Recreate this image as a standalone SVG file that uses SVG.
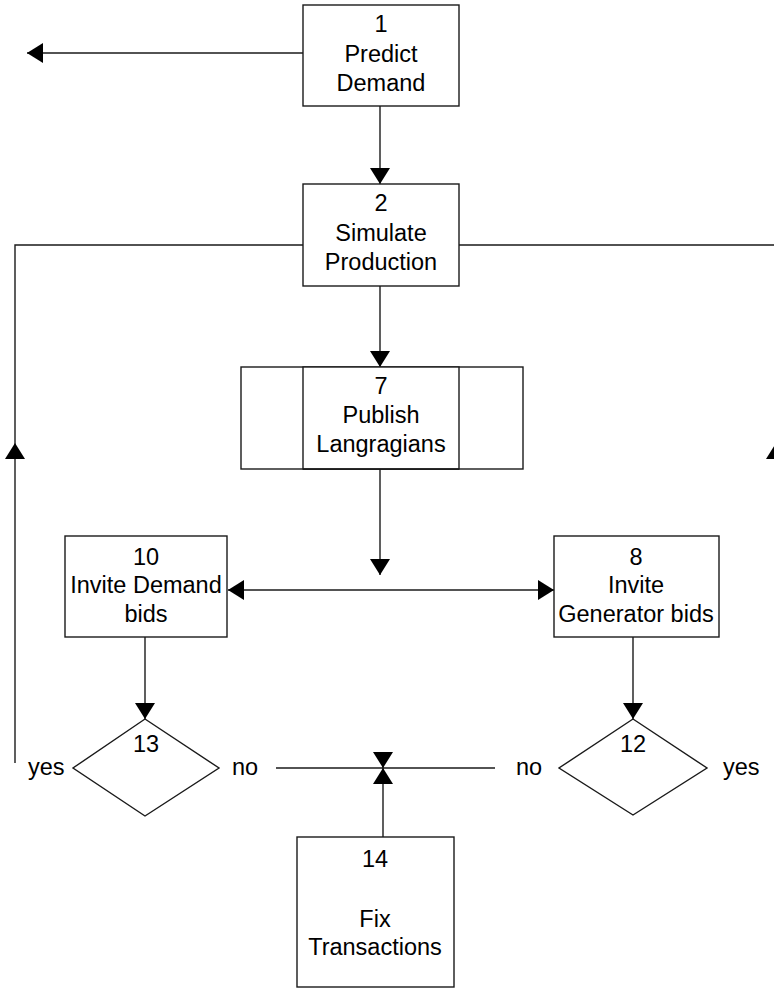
<svg xmlns="http://www.w3.org/2000/svg" width="774" height="988" viewBox="0 0 774 988">
  <style>
    .box { fill: #ffffff; stroke: #1a1a1a; stroke-width: 1.4; }
    .line { fill: none; stroke: #1a1a1a; stroke-width: 1.4; }
    .arrow { marker-end: url(#head); }
    .both { marker-start: url(#head); marker-end: url(#head); }
    text { font-family: "Liberation Sans", Arial, Helvetica, sans-serif; font-size: 23.5px; fill: #000000; }
    .c { text-anchor: middle; }
  </style>
  <defs>
    <marker id="head" markerUnits="userSpaceOnUse" markerWidth="16" markerHeight="20" refX="16" refY="10" orient="auto-start-reverse" viewBox="0 0 16 20">
      <path d="M0,0 L16,10 L0,20 Z" fill="#000000"/>
    </marker>
  </defs>

  <!-- connectors -->
  <g id="connectors">
    <line class="line arrow" x1="303" y1="53" x2="27" y2="53"/>
    <line class="line arrow" x1="380" y1="106" x2="380" y2="184"/>
    <line class="line arrow" x1="380" y1="286" x2="380" y2="367"/>
    <line class="line arrow" x1="380" y1="469" x2="380" y2="575"/>
    <!-- loop back on the left -->
    <line class="line arrow" x1="15" y1="763" x2="15" y2="443"/>
    <polyline class="line" points="15,443 15,245 303,245"/>
    <!-- loop back on the right -->
    <polyline class="line" points="459,245 776,245 776,443"/>
    <line class="line arrow" x1="776" y1="560" x2="776" y2="443"/>
    <!-- fan out to the two bid boxes -->
    <line class="line both" x1="228" y1="590" x2="554" y2="590"/>
    <line class="line arrow" x1="145" y1="637" x2="145" y2="719"/>
    <line class="line arrow" x1="633" y1="637" x2="633" y2="719"/>
    <!-- "no" branches meet -->
    <line class="line" x1="276" y1="768" x2="495" y2="768"/>
    <line class="line arrow" x1="383" y1="752" x2="383" y2="768"/>
    <line class="line arrow" x1="383" y1="837" x2="383" y2="768"/>
  </g>

  <g id="node1">
    <rect class="box" x="303" y="5" width="156" height="101"/>
    <text class="c" x="381" y="32">1</text>
    <text class="c" x="381" y="62">Predict</text>
    <text class="c" x="381" y="91">Demand</text>
  </g>

  <g id="node2">
    <rect class="box" x="303" y="184" width="156" height="102"/>
    <text class="c" x="381" y="211">2</text>
    <text class="c" x="381" y="241">Simulate</text>
    <text class="c" x="381" y="270">Production</text>
  </g>

  <g id="node7">
    <rect class="box" x="241" y="367" width="282" height="102"/>
    <rect class="box" x="303" y="367" width="156" height="102"/>
    <line class="line" x1="303" y1="469" x2="459" y2="469" stroke-width="2.2"/>
    <text class="c" x="381" y="394">7</text>
    <text class="c" x="381" y="423">Publish</text>
    <text class="c" x="381" y="452">Langragians</text>
  </g>

  <g id="node10">
    <rect class="box" x="65" y="536" width="162" height="101"/>
    <text class="c" x="146" y="565">10</text>
    <text class="c" x="146" y="593">Invite Demand</text>
    <text class="c" x="146" y="622">bids</text>
  </g>

  <g id="node8">
    <rect class="box" x="554" y="536" width="165" height="101"/>
    <text class="c" x="636" y="565">8</text>
    <text class="c" x="636" y="593">Invite</text>
    <text class="c" x="636" y="622">Generator bids</text>
  </g>

  <g id="node13">
    <polygon class="box" points="145,719 219,768 145,816 73,768"/>
    <text class="c" x="146" y="752">13</text>
    <text x="28" y="775">yes</text>
    <text x="232" y="775">no</text>
  </g>

  <g id="node12">
    <polygon class="box" points="633,719 707,768 633,815 559,768"/>
    <text class="c" x="633" y="752">12</text>
    <text x="516" y="775">no</text>
    <text x="723" y="775">yes</text>
  </g>

  <g id="node14">
    <rect class="box" x="297" y="837" width="157" height="150"/>
    <text class="c" x="375" y="867">14</text>
    <text class="c" x="375" y="927">Fix</text>
    <text class="c" x="375" y="955">Transactions</text>
  </g>
</svg>
